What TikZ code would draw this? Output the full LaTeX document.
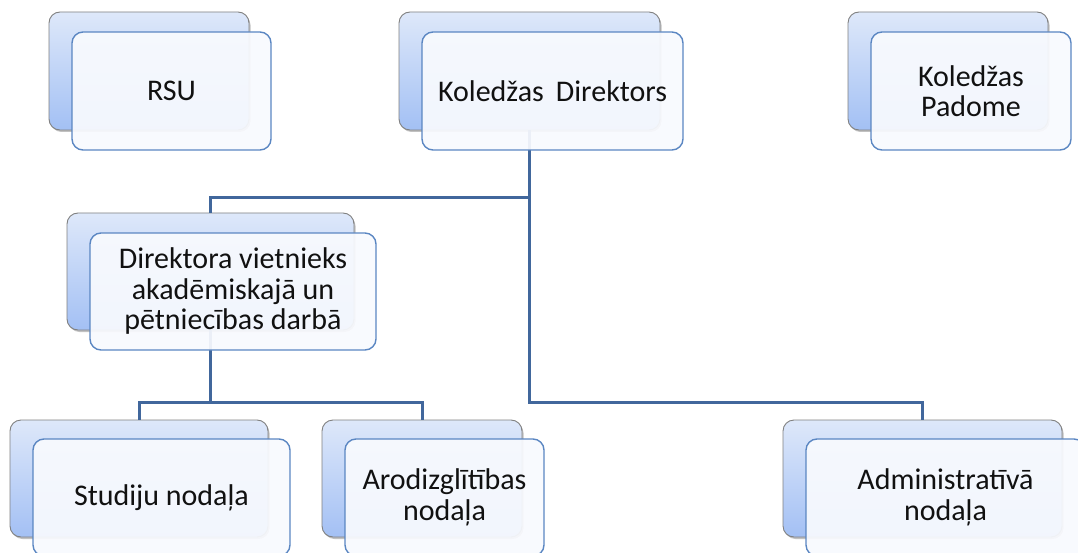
\documentclass[tikz,border=0pt]{standalone}
\usepackage{fontspec}
\setmainfont{Carlito}
\usetikzlibrary{shadows}
\definecolor{backtop}{HTML}{DEE8FA}
\definecolor{backbot}{HTML}{A3C0F4}
\definecolor{backline}{HTML}{808080}
\definecolor{frontfill}{HTML}{F8FAFE}
\definecolor{frontline}{HTML}{5A86C2}
\definecolor{connline}{HTML}{41679C}
\definecolor{txt}{HTML}{111111}
\tikzset{
  backbox/.style={rectangle, rounded corners=11pt, draw=backline, line width=0.9pt,
    top color=backtop, bottom color=backbot, inner sep=0pt,
    drop shadow={shadow xshift=1.5pt, shadow yshift=-2pt, opacity=0.35, fill=black!70}},
  frontbox/.style={rectangle, rounded corners=11pt, draw=frontline, line width=1.4pt,
    fill=frontfill, fill opacity=0.93, text opacity=1, text=txt, inner sep=0pt,
    align=center, font=\fontsize{30}{30.5}\selectfont},
  conn/.style={draw=connline, line width=3pt}
}
\begin{document}
\begin{tikzpicture}[x=1pt,y=-1pt]
\useasboundingbox (0,0) rectangle (1078,553);
\clip (0,0) rectangle (1078,553);
% back boxes (positions)
\node[backbox, minimum width=200pt, minimum height=118pt] (rsuB) at (149,71) {};
\node[backbox, minimum width=261pt, minimum height=118pt] (dirB) at (529.5,71) {};
\node[backbox, minimum width=200pt, minimum height=118pt] (padB) at (948,71) {};
\node[backbox, minimum width=287pt, minimum height=117pt] (vicB) at (210.5,271.5) {};
\node[backbox, minimum width=258pt, minimum height=117pt] (stuB) at (139,478.5) {};
\node[backbox, minimum width=200pt, minimum height=117pt] (aroB) at (422,478.5) {};
\node[backbox, minimum width=279pt, minimum height=117pt] (admB) at (922.5,478.5) {};
% connectors
\draw[conn] (dirB.south) -- ++(0,67) -| (vicB.north);
\draw[conn] (dirB.south) -- ++(0,272) -| (admB.north);
\draw[conn] (vicB.south) -- ++(0,72) coordinate (vj);
\draw[conn] (stuB.north) |- (vj) -| (aroB.north);
% front boxes
\node[frontbox, minimum width=199pt, minimum height=118pt] (rsuF) at (171.5,91) {RSU};
\node[frontbox, minimum width=261pt, minimum height=118pt] (dirF) at (552.5,91) {Koledžas\hspace{0.4em}Direktors};
\node[frontbox, minimum width=200pt, minimum height=118pt] (padF) at (971,91) {Koledžas\\Padome};
\node[frontbox, minimum width=286pt, minimum height=117pt] (vicF) at (233,291.5) {Direktora vietnieks\\akadēmiskajā un\\pētniecības darbā};
\node[frontbox, minimum width=257pt, minimum height=117pt] (stuF) at (161.5,497.5) {Studiju nodaļa};
\node[frontbox, minimum width=199pt, minimum height=117pt] (aroF) at (444.5,497.5) {Arodizglītības\\nodaļa};
\node[frontbox, minimum width=279pt, minimum height=117pt] (admF) at (945.5,497.5) {Administratīvā\\nodaļa};
\end{tikzpicture}
\end{document}
